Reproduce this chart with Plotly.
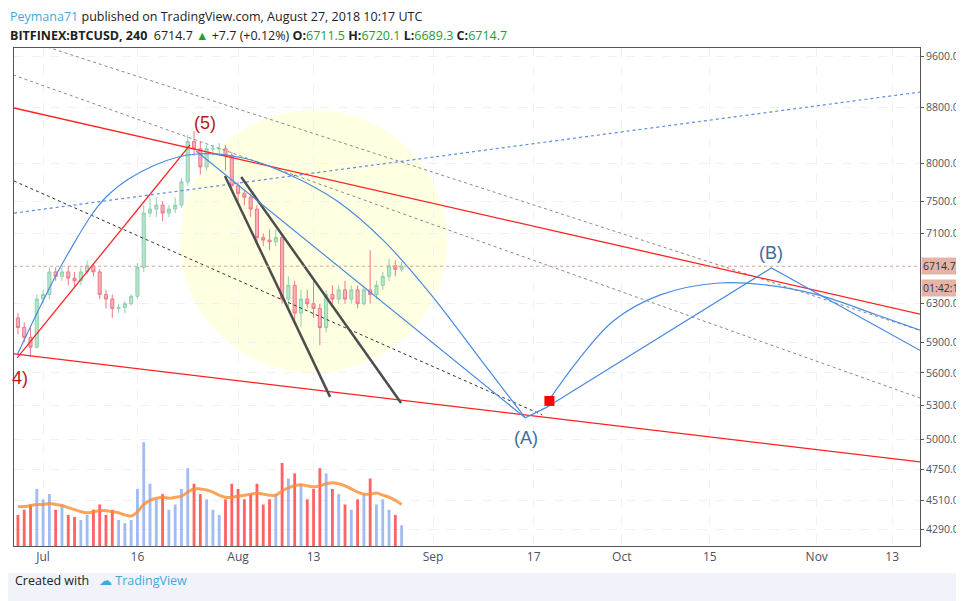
import math
import pandas as pd
import plotly.graph_objects as go

# daily candles, Jun 27 - Aug 27 2018
days = pd.date_range("2018-06-27", "2018-08-27", freq="D")
opens = [6150, 6050, 5950, 5850, 6350, 6400, 6650, 6600, 6650, 6580, 6550, 6650, 6720, 6650, 6400, 6350,
         6250, 6260, 6300, 6380, 6700, 7350, 7400, 7450, 7350, 7400, 7450, 7750, 8300, 8200, 7950, 8200,
         8200, 8200, 8100, 7700, 7600, 7550, 7400, 7050, 7020, 7000, 7050, 6350, 6500, 6200, 6350, 6300,
         6250, 6050, 6400, 6350, 6450, 6350, 6450, 6300, 6450, 6400, 6500, 6600, 6720, 6680]
highs = [6200, 6100, 6050, 6400, 6450, 6700, 6700, 6700, 6720, 6650, 6700, 6780, 6750, 6680, 6450, 6400,
         6300, 6330, 6400, 6750, 7450, 7550, 7550, 7500, 7450, 7550, 7800, 8400, 8450, 8300, 8250, 8250,
         8280, 8250, 8150, 7750, 7650, 7600, 7450, 7100, 7150, 7150, 7080, 6600, 6550, 6450, 6450, 6550,
         6300, 6450, 6500, 6500, 6550, 6500, 6500, 6500, 6900, 6550, 6650, 6800, 6780, 6760]
lows = [5980, 5900, 5760, 5840, 6300, 6350, 6550, 6550, 6500, 6480, 6500, 6620, 6600, 6350, 6250, 6150,
        6200, 6200, 6280, 6350, 6650, 7300, 7300, 7250, 7300, 7350, 7420, 7700, 8100, 7850, 7900, 8100,
        8100, 7900, 7650, 7500, 7450, 7300, 7000, 6950, 6900, 6950, 6300, 6250, 6100, 6050, 6250, 6150,
        5870, 6000, 6300, 6300, 6300, 6300, 6250, 6280, 6300, 6350, 6450, 6550, 6600, 6650]
closes = [6050, 5950, 5850, 6350, 6400, 6650, 6600, 6650, 6580, 6550, 6650, 6720, 6650, 6400, 6350, 6250,
          6260, 6300, 6380, 6700, 7350, 7400, 7450, 7350, 7400, 7450, 7750, 8300, 8200, 7950, 8200, 8200,
          8200, 8100, 7700, 7600, 7550, 7400, 7050, 7020, 7000, 7050, 6350, 6500, 6200, 6350, 6300, 6250,
          6050, 6400, 6350, 6450, 6350, 6450, 6300, 6450, 6400, 6500, 6600, 6720, 6680, 6714.7]
volume = [30, 35, 40, 55,
          45, 50, 35, 40, 30, 28, 25, 30, 35, 40, 30, 35, 25, 22, 25, 55, 100, 60, 45, 50,
          35, 40, 55, 75, 60, 50, 45, 35, 30, 45, 60,
          55, 45, 50, 60, 40, 45, 50, 80, 65, 70, 60, 45, 55, 75, 70, 55, 50, 40, 35, 45, 50,
          65, 40, 45, 35, 30, 20]
volume_ma = [38, 38, 39, 40, 40, 41, 40, 39, 37, 35, 33, 32, 33, 34, 34, 33, 32, 30, 29, 33,
             40, 44, 46, 47, 46, 47, 48, 52, 55, 55, 54, 52, 49, 47, 47, 48, 49, 50, 51, 50,
             49, 49, 53, 56, 58, 59, 58, 57, 58, 60, 61, 60, 58, 55, 52, 50, 50, 51, 49, 47, 44, 40]
last_price = 6714.7

price_ticks = [9600, 8800, 8000, 7500, 7100, 6300, 5900, 5600, 5300, 5000, 4750, 4510, 4290]
date_ticks = ["2018-07-01", "2018-07-16", "2018-08-01", "2018-08-13", "2018-09-01", "2018-09-17",
              "2018-10-01", "2018-10-15", "2018-11-01", "2018-11-13"]
date_labels = ["Jul", "16", "Aug", "13", "Sep", "17", "Oct", "15", "Nov", "13"]

# drawings (date, price)
red_upper = (["2018-06-26 09:00", "2018-11-18 17:00"], [8788, 6170])
red_lower = (["2018-06-26 09:00", "2018-11-18 17:00"], [5784, 4806])
red_wave = (["2018-06-26 21:00", "2018-07-24 09:00"], [5746, 8253])
blue_dotted = (["2018-06-26 09:00", "2018-11-18 17:00"], [7350, 9046])
gray_dot_1 = (["2018-06-26 06:00", "2018-11-18 17:00"], [9933, 5994])
gray_dot_2 = (["2018-06-26 06:00", "2018-11-18 17:00"], [9296, 5340])
black_dot = (["2018-06-26 09:00", "2018-09-18 09:00"], [7762, 5214])
thick_1 = (["2018-07-29 22:00", "2018-08-15 15:00"], [7829, 5377])
thick_2 = (["2018-08-01 12:00", "2018-08-26 22:00"], [7815, 5322])
arc_1 = (["2018-06-26 21:00", "2018-07-04 20:00", "2018-07-11 08:00", "2018-07-18 19:00",
          "2018-07-25 08:00", "2018-08-01 19:00", "2018-08-09 06:00", "2018-08-16 18:00",
          "2018-08-24 05:00", "2018-08-31 17:00", "2018-09-08 00:00", "2018-09-15 16:00"],
         [5775, 6845, 7579, 7976, 8127, 8072, 7842, 7502, 7008, 6395, 5775, 5188])
arc_2 = (["2018-09-19 08:00", "2018-09-23 23:00", "2018-09-29 16:00", "2018-10-07 03:00",
          "2018-10-16 09:00", "2018-10-23 20:00", "2018-11-01 05:00", "2018-11-10 14:00",
          "2018-11-18 17:00"],
         [5340, 5715, 6118, 6395, 6526, 6505, 6395, 6180, 5994])
abc_path = (["2018-07-25 08:00", "2018-09-15 16:00", "2018-09-18 21:00", "2018-10-24 19:00",
             "2018-11-18 17:00"],
            [8168, 5188, 5277, 6695, 5775])
circle_x = ["2018-07-22 19:00", "2018-09-03 06:00"]
circle_y = [5601, 8758]
flag = ("2018-09-19 12:00", 5340)
wave_labels = [("(5)", "2018-07-26 18:00", 8566, "#c0161b"),
               ("(A)", "2018-09-15 19:00", 5015, "#3c6e9e"),
               ("(B)", "2018-10-24 19:00", 6868, "#3c6e9e")]

fig = go.Figure()

fig.add_trace(go.Bar(x=days, y=volume, yaxis="y2", width=0.45 * 86400000,
                     marker_color=["rgba(255,82,82,0.9)" if c < o else "rgba(130,165,235,0.75)"
                                   for o, c in zip(opens, closes)],
                     marker_line_width=0))
fig.add_trace(go.Scatter(x=days, y=volume_ma, yaxis="y2", mode="lines", line_shape="spline",
                         line=dict(color="rgba(255,140,50,0.8)", width=3)))

fig.add_trace(go.Candlestick(x=days, open=opens, high=highs, low=lows, close=closes,
                             increasing=dict(line=dict(color="#8fd1ae", width=1), fillcolor="#b8e3cc"),
                             decreasing=dict(line=dict(color="#ec7a8a", width=1), fillcolor="#f5b0b8"),
                             whiskerwidth=0))


def line(pts, color, width=1, dash="solid", shape="linear"):
    fig.add_trace(go.Scatter(x=pts[0], y=pts[1], mode="lines", line_shape=shape,
                             line=dict(color=color, width=width, dash=dash)))


line(gray_dot_1, "#8a8a8a", 1, "dot")
line(gray_dot_2, "#8a8a8a", 1, "dot")
line(black_dot, "#333333", 1, "dot")
line(blue_dotted, "#5b8fe0", 1.2, "dot")
line(red_upper, "#ff2020", 1.3)
line(red_lower, "#ff2020", 1.3)
line(red_wave, "#ff2020", 1.3)
line(thick_1, "#4d4d4d", 2.5)
line(thick_2, "#4d4d4d", 2.5)
line(arc_1, "#4a8ae0", 1.2, shape="spline")
line(arc_2, "#4a8ae0", 1.2, shape="spline")
line(abc_path, "#4a8ae0", 1.2)
fig.add_trace(go.Scatter(x=[flag[0]], y=[flag[1]], mode="markers",
                         marker=dict(symbol="square", color="#ff0000", size=10)))

fig.add_shape(type="circle", xref="x", yref="y", x0=circle_x[0], x1=circle_x[1],
              y0=circle_y[0], y1=circle_y[1], fillcolor="rgba(255,255,190,0.45)",
              line_width=0, layer="below")
fig.add_hline(y=last_price, line=dict(color="#e0a090", width=1, dash="dot"))

# annotations on a log axis take log10 positions
label_font = "Liberation Sans, Arial, sans-serif"
for txt, xd, yp, col in wave_labels:
    fig.add_annotation(x=xd, y=math.log10(yp), text=txt, showarrow=False,
                       font=dict(size=18, color=col, family=label_font))
fig.add_annotation(x=0, xref="paper", y=math.log10(5553), text="4)", showarrow=False,
                   xanchor="left", xshift=-4,
                   font=dict(size=18, color="#c0161b", family=label_font))

for txt, yp in [("6714.7", last_price), ("01:42:11", 6470)]:
    fig.add_annotation(x=1, xref="paper", y=math.log10(yp), text=txt, showarrow=False,
                       xanchor="left", xshift=1, bgcolor="#e6b3a8", borderpad=1,
                       font=dict(size=10.5, color="#333", family="Open Sans"))

green = "#1e9e2c"
fig.add_annotation(x=0, y=1, xref="paper", yref="paper", xanchor="left", yanchor="bottom",
                   xshift=-6, yshift=21, showarrow=False, align="left",
                   text="<span style='color:#3fa9dc'>Peymana71</span> published on TradingView.com, "
                        "August 27, 2018 10:17 UTC",
                   font=dict(size=12.5, color="#222", family="Open Sans"))
fig.add_annotation(x=0, y=1, xref="paper", yref="paper", xanchor="left", yanchor="bottom",
                   xshift=-6, yshift=2, showarrow=False, align="left",
                   text=f"<b>BITFINEX:BTCUSD, 240</b>  6714.7 <span style='color:{green}'>▲</span> "
                        f"+7.7 (+0.12%) <b>O:</b><span style='color:{green}'>6711.5</span> "
                        f"<b>H:</b><span style='color:{green}'>6720.1</span> "
                        f"<b>L:</b><span style='color:{green}'>6689.3</span> "
                        f"<b>C:</b><span style='color:{green}'>6714.7</span>",
                   font=dict(size=12.5, color="#222", family="Open Sans"))

fig.add_shape(type="rect", xref="paper", yref="paper", x0=-0.01, x1=1.06, y0=-0.054, y1=-0.127,
              fillcolor="#f0f3fa", line_width=0, layer="below")
fig.add_annotation(x=0, y=-0.09, xref="paper", yref="paper", xanchor="left", xshift=-1,
                   showarrow=False,
                   text="Created with   <span style='color:#3fa9dc'>☁ TradingView</span>",
                   font=dict(size=12.5, color="#222", family="Open Sans"))

fig.update_layout(
    width=964, height=601, showlegend=False,
    margin=dict(l=6, r=52, t=40, b=63),
    plot_bgcolor="white", paper_bgcolor="white",
    xaxis=dict(type="date", range=["2018-06-26 09:00", "2018-11-17 10:00"],
               tickvals=date_ticks, ticktext=date_labels, rangeslider=dict(visible=False),
               showgrid=True, gridcolor="#eef2f5", griddash="dash", ticks="",
               showline=True, linecolor="#555", mirror=True,
               tickfont=dict(size=12, color="#4c525e", family="Open Sans")),
    yaxis=dict(type="log", range=[3.6204, 3.9882], side="right", tickvals=price_ticks,
               ticktext=[f"{v}.0" for v in price_ticks], showgrid=True, gridcolor="#eef2f5",
               griddash="dash", ticks="outside", ticklen=3, tickcolor="#555",
               showline=True, linecolor="#555", mirror=True,
               tickfont=dict(size=10.5, color="#4c525e", family="Open Sans")),
    yaxis2=dict(overlaying="y", range=[0, 480], visible=False),
)

fig.write_html("out.html")
